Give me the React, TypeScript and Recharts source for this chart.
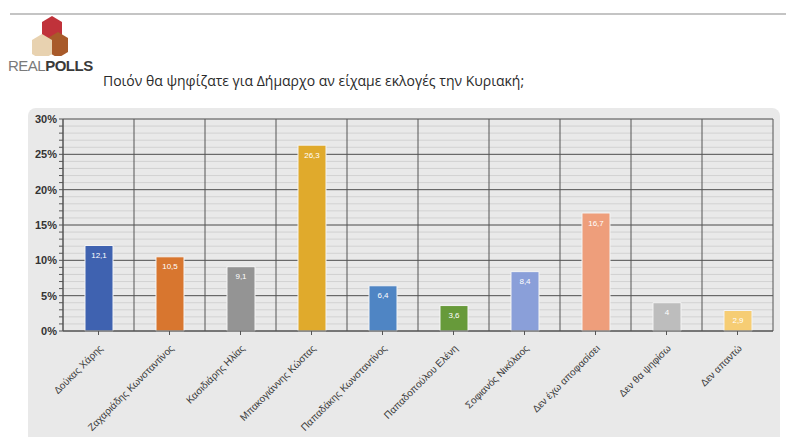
import React from "react";
import {
  BarChart,
  Bar,
  XAxis,
  YAxis,
  CartesianGrid,
  Cell,
  LabelList,
} from "recharts";

const candidates = [
  "Δούκας Χάρης",
  "Ζαχαριάδης Κωνσταντίνος",
  "Κασιδιάρης Ηλίας",
  "Μπακογιάννης Κώστας",
  "Παπαδάκης Κωνσταντίνος",
  "Παπαδοπούλου Ελένη",
  "Σοφιανός Νικόλαος",
  "Δεν έχω αποφασίσει",
  "Δεν θα ψηφίσω",
  "Δεν απαντώ",
];
const shares = [12.1, 10.5, 9.1, 26.3, 6.4, 3.6, 8.4, 16.7, 4, 2.9];
const barColors = [
  "#3f62b0",
  "#d8762f",
  "#949494",
  "#e0aa2c",
  "#4f85c4",
  "#679a3a",
  "#8a9fd9",
  "#ee9e7b",
  "#bdbdbd",
  "#f6cd74",
];
const majorTicks = [0, 5, 10, 15, 20, 25, 30];
const minorTicks = Array.from({ length: 31 }, (_, i) => i);
const slotEdges = Array.from({ length: 11 }, (_, i) => i);

const data = candidates.map((name, i) => ({ name, slot: i + 0.5, value: shares[i] }));

const font = "'Liberation Sans', Arial, sans-serif";

function NameTick(props: any) {
  const { x, y, payload } = props;
  return (
    <text
      x={x + 5}
      y={y + 12}
      transform={`rotate(-45, ${x + 5}, ${y + 12})`}
      textAnchor="end"
      fontSize={10}
      fontFamily={font}
      fill="#3a3a3a"
    >
      {payload.value}
    </text>
  );
}

function Logo() {
  return (
    <div style={{ position: "absolute", left: 8, top: 14, width: 90, height: 60 }}>
      <svg width={90} height={42}>
        <polygon points="44,2 54,8 54,22 44,28 34,22 34,8" fill="#c0323a" />
        <polygon points="50,18 60,24 60,38 50,44 40,38 40,24" fill="#a85a2a" />
        <polygon points="34,20 44,26 44,40 34,46 24,40 24,26" fill="#e8d2b0" />
      </svg>
      <div style={{ fontFamily: font, fontSize: 15, lineHeight: "15px", marginTop: -2, letterSpacing: -0.5 }}>
        <span style={{ color: "#7a7a7a" }}>REAL</span>
        <span style={{ color: "#3a3a3a", fontWeight: "bold" }}>POLLS</span>
      </div>
    </div>
  );
}

export default function App() {
  return (
    <div style={{ position: "absolute", left: 0, top: 0, width: 786, height: 437, background: "#fff", overflow: "hidden" }}>
      <div style={{ position: "absolute", left: 10, top: 13, width: 776, height: 2, background: "#c4c4c4" }} />
      <Logo />
      <div
        style={{
          position: "absolute",
          left: 103,
          top: 71,
          fontFamily: "'Open Sans', sans-serif",
          fontSize: 14,
          color: "#2a2a2a",
          whiteSpace: "nowrap",
        }}
      >
        Ποιόν θα ψηφίζατε για Δήμαρχο αν είχαμε εκλογές την Κυριακή;
      </div>
      <div
        style={{
          position: "absolute",
          left: 28,
          top: 108,
          width: 752,
          height: 340,
          background: "#e9e9e9",
          borderRadius: 8,
        }}
      />
      <div style={{ position: "absolute", left: 0, top: 0 }}>
        <BarChart
          width={786}
          height={437}
          data={data}
          margin={{ top: 119, right: 13, left: 25, bottom: 0 }}
          barCategoryGap="30%"
        >
          <XAxis xAxisId="slots" type="number" dataKey="slot" domain={[0, 10]} ticks={slotEdges} hide />
          <CartesianGrid
            xAxisId="slots"
            horizontalValues={minorTicks}
            vertical={false}
            stroke="#d2d2d2"
            strokeWidth={1}
          />
          <CartesianGrid
            xAxisId="slots"
            horizontalValues={majorTicks}
            verticalValues={slotEdges}
            stroke="#555"
            strokeWidth={1}
          />
          <XAxis
            dataKey="name"
            interval={0}
            height={106}
            tick={<NameTick />}
            tickLine={{ stroke: "#555" }}
            tickSize={4}
            axisLine={{ stroke: "#555" }}
          />
          <YAxis
            domain={[0, 30]}
            ticks={minorTicks}
            interval={0}
            width={38}
            tickFormatter={(v) => (v % 5 === 0 ? `${v}%` : "")}
            tick={{ fontSize: 11, fontWeight: "bold", fill: "#333", fontFamily: font }}
            tickLine={{ stroke: "#555" }}
            tickSize={4}
            axisLine={{ stroke: "#555" }}
          />
          <Bar dataKey="value" barSize={28} isAnimationActive={false} stroke="#f4f4f4" strokeWidth={1}>
            {data.map((d, i) => (
              <Cell key={d.name} fill={barColors[i]} />
            ))}
            <LabelList
              dataKey="value"
              position="insideTop"
              offset={7}
              formatter={(v: any) => String(v).replace(".", ",")}
              style={{ fontSize: 8, fill: "#fff", fontFamily: font }}
            />
          </Bar>
        </BarChart>
      </div>
    </div>
  );
}
